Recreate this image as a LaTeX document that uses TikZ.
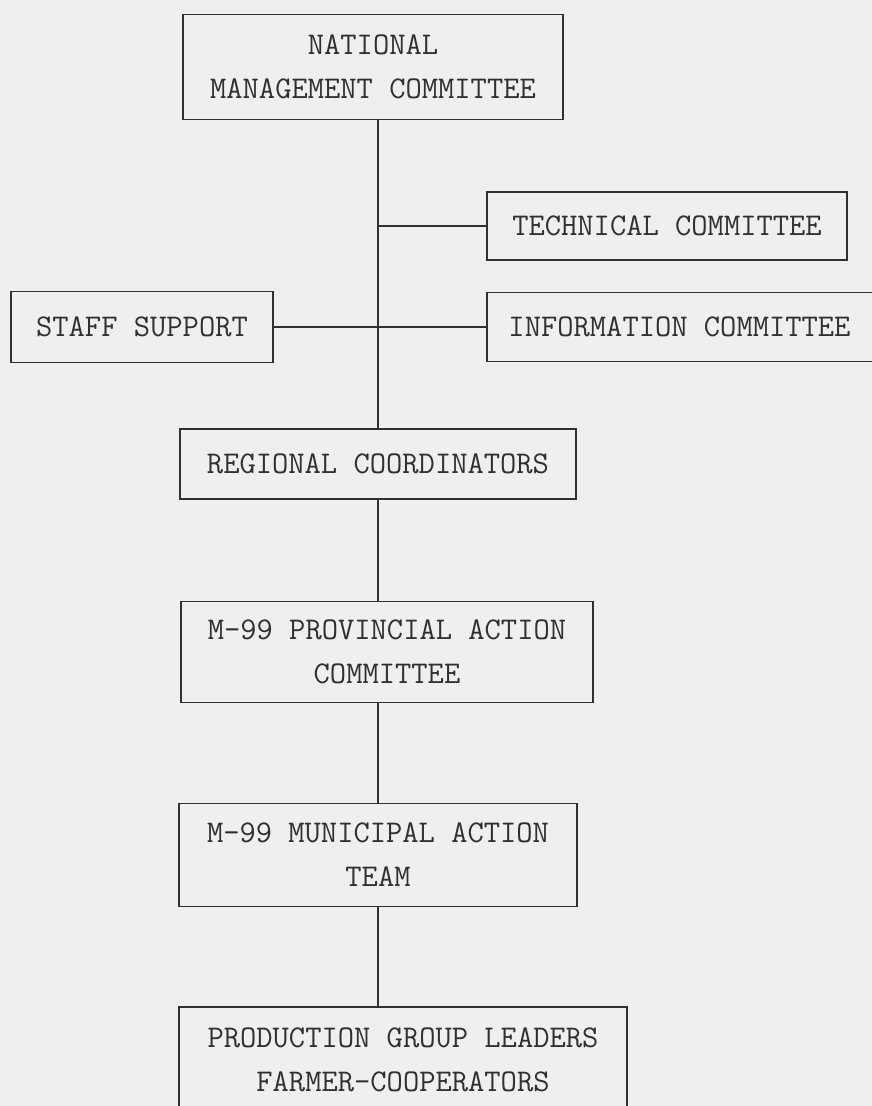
\documentclass[tikz,border=0pt]{standalone}
\usepackage{fontspec}
\definecolor{paper}{HTML}{EFEFEF}
\definecolor{ink}{HTML}{303030}
\tikzset{
    orgbox/.style={draw=ink, line width=0.7pt, text=ink, align=center,
        font=\ttfamily\fontsize{18}{25}\selectfont, inner sep=0pt},
    link/.style={draw=ink, line width=0.7pt}
}
\begin{document}
\begin{tikzpicture}[x=0.02cm, y=-0.02cm]
        \useasboundingbox (0,0) rectangle (872,1106);
        \fill[paper] (0,0) rectangle (872,1106);
        \clip (0,0) rectangle (872,1106);
        \node[orgbox, minimum width=7.6cm, minimum height=2.1cm] (nat) at (373,67) {NATIONAL\\MANAGEMENT COMMITTEE};
        \node[orgbox, minimum width=7.2cm, minimum height=1.36cm] (tech) at (667,226) {TECHNICAL COMMITTEE};
        \node[orgbox, minimum width=5.24cm, minimum height=1.42cm] (staff) at (142,327) {STAFF SUPPORT};
        \node[orgbox, minimum width=8cm, minimum height=1.38cm] (info) at (687,327) {\hspace*{-0.3cm}INFORMATION COMMITTEE};
        \node[orgbox, minimum width=7.92cm, minimum height=1.4cm] (reg) at (378,464) {REGIONAL COORDINATORS};
        \node[orgbox, minimum width=8.24cm, minimum height=2.02cm] (prov) at (387,652) {M-99 PROVINCIAL ACTION\\COMMITTEE};
        \node[orgbox, minimum width=7.96cm, minimum height=2.06cm] (mun) at (378,855) {M-99 MUNICIPAL ACTION\\TEAM};
        \node[orgbox, minimum width=8.96cm, minimum height=2.12cm] (prod) at (403,1060) {PRODUCTION GROUP LEADERS\\FARMER-COOPERATORS};
        % trunk and side branches
        \draw[link] (reg.north |- nat.south) -- (reg.north);
        \draw[link] (tech.west) -- (tech.west -| reg.north);
        \draw[link] (staff.east) -- (info.west);
        % lower chain
        \draw[link] (reg.south) -- (reg.south |- prov.north);
        \draw[link] (mun.north |- prov.south) -- (mun.north);
        \draw[link] (mun.south) -- (mun.south |- prod.north);
    \end{tikzpicture}
\end{document}
